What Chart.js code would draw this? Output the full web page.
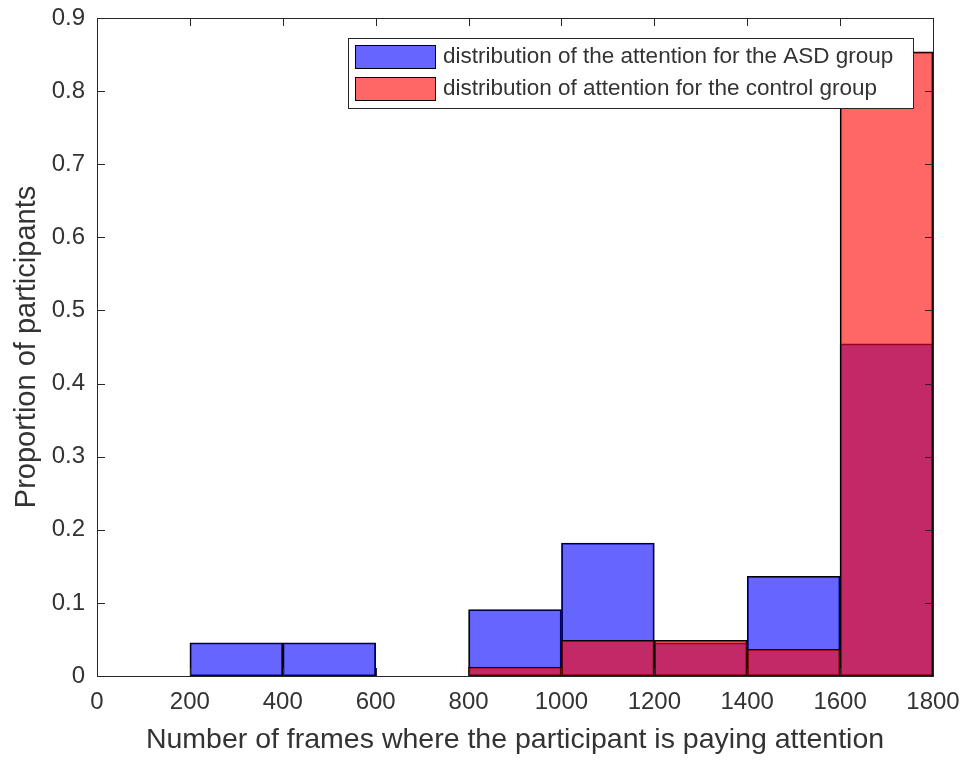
<!DOCTYPE html>
<html>
<head>
<meta charset="utf-8">
<script src="https://cdn.jsdelivr.net/npm/chart.js@4.4.0/dist/chart.umd.min.js"></script>
<style>
body { margin: 0; background: #fff; }
#wrap { width: 968px; height: 760px; }
</style>
</head>
<body>
<div id="wrap"><canvas id="chart"></canvas></div>
<script>
// bin centres of the histogram (bin width 200)
var binCenters = [100, 300, 500, 700, 900, 1100, 1300, 1500, 1700];
var asdValues = [null, 0.0455, 0.0455, null, 0.0909, 0.1818, 0.0455, 0.1364, 0.4545];
var controlValues = [null, null, null, null, 0.0122, 0.0488, 0.0488, 0.0366, 0.8537];
var seriesNames = ["distribution of the attention for the ASD group", "distribution of attention for the control group"];
var xTickLabels = ["0", "200", "400", "600", "800", "1000", "1200", "1400", "1600", "1800"];
var yTickLabels = ["0", "0.1", "0.2", "0.3", "0.4", "0.5", "0.6", "0.7", "0.8", "0.9"];

var axisColor = "#262626";
var textColor = "#333333";
var fontName = "'Liberation Sans', Arial, sans-serif";

function toPoints(values)
{
    return binCenters.map((x, i) => ({x: x, y: values[i]}));
}

// matlab style box with inward ticks
var boxPlugin = {
    id: "box",
    afterDatasetsDraw(chart) {
        var ctx = chart.ctx;
        var a = chart.chartArea;
        var xs = chart.scales.x;
        var ys = chart.scales.y;
        ctx.save();
        ctx.strokeStyle = axisColor;
        ctx.lineWidth = 1;
        ctx.strokeRect(a.left + 0.5, a.top + 0.5, a.right - a.left, a.bottom - a.top);
        ctx.beginPath();
        xs.ticks.forEach(t => {
            var px = Math.round(xs.getPixelForValue(t.value)) + 0.5;
            ctx.moveTo(px, a.bottom); ctx.lineTo(px, a.bottom - 8);
            ctx.moveTo(px, a.top); ctx.lineTo(px, a.top + 8);
        });
        ys.ticks.forEach(t => {
            var py = Math.round(ys.getPixelForValue(t.value)) + 0.5;
            ctx.moveTo(a.left, py); ctx.lineTo(a.left + 8, py);
            ctx.moveTo(a.right, py); ctx.lineTo(a.right - 8, py);
        });
        ctx.stroke();
        ctx.restore();
    }
};

// legend box drawn inside the plot, top right
var legendPlugin = {
    id: "insideLegend",
    afterDraw(chart) {
        var ctx = chart.ctx;
        var a = chart.chartArea;
        var left = a.right - 585, top = a.top + 20, w = 565, h = 70;
        ctx.save();
        ctx.fillStyle = "#fff";
        ctx.fillRect(left, top, w, h);
        ctx.strokeStyle = axisColor;
        ctx.lineWidth = 1;
        ctx.strokeRect(left + 0.5, top + 0.5, w, h);
        ctx.font = "22.5px " + fontName;
        ctx.textBaseline = "middle";
        chart.data.datasets.forEach((ds, i) => {
            var y = top + 7 + i * 32;
            ctx.fillStyle = ds.backgroundColor;
            ctx.fillRect(left + 7, y, 80, 23);
            ctx.strokeStyle = "#000";
            ctx.strokeRect(left + 7.5, y + 0.5, 80, 23);
            ctx.fillStyle = textColor;
            ctx.fillText(ds.label, left + 95, y + 12);
        });
        ctx.restore();
    }
};

var ctx = document.getElementById("chart").getContext("2d");
var myChart = new Chart(ctx, {
    type: "bar",
    data: {
        datasets: [
            {label: seriesNames[0], data: toPoints(asdValues), backgroundColor: "rgba(0,0,255,0.6)", order: 2},
            {label: seriesNames[1], data: toPoints(controlValues), backgroundColor: "rgba(255,0,0,0.6)", order: 1}
        ]
    },
    options: {
        responsive: true,
        maintainAspectRatio: false,
        animation: false,
        layout: {padding: {top: 18, right: 35, left: 0, bottom: 0}},
        datasets: {
            bar: {grouped: false, barPercentage: 1, categoryPercentage: 1, borderColor: "#000", borderWidth: 1.2, borderSkipped: false}
        },
        plugins: {legend: {display: false}, tooltip: {enabled: false}},
        scales: {
            x: {
                type: "linear", min: 0, max: 1800, offset: false,
                grid: {display: false, drawTicks: false},
                border: {display: false},
                ticks: {
                    stepSize: 200, padding: 12, maxRotation: 0, color: textColor,
                    font: {family: fontName, size: 24},
                    callback: (v, i) => xTickLabels[i]
                },
                title: {display: true, text: "Number of frames where the participant is paying attention", color: textColor, font: {family: fontName, size: 28.5}, padding: {top: 4, bottom: 3}},
                afterFit: s => { s.height = 84; s.paddingLeft = 0; s.paddingRight = 0; }
            },
            y: {
                min: 0, max: 0.9,
                grid: {display: false, drawTicks: false},
                border: {display: false},
                ticks: {
                    stepSize: 0.1, padding: 12, color: textColor,
                    font: {family: fontName, size: 24},
                    callback: (v, i) => yTickLabels[i]
                },
                title: {display: true, text: "Proportion of participants", color: textColor, font: {family: fontName, size: 29}, padding: {top: 10, bottom: 4}},
                afterFit: s => { s.width = 97; s.paddingTop = 0; s.paddingBottom = 0; }
            }
        }
    },
    plugins: [boxPlugin, legendPlugin]
});
</script>
</body>
</html>
